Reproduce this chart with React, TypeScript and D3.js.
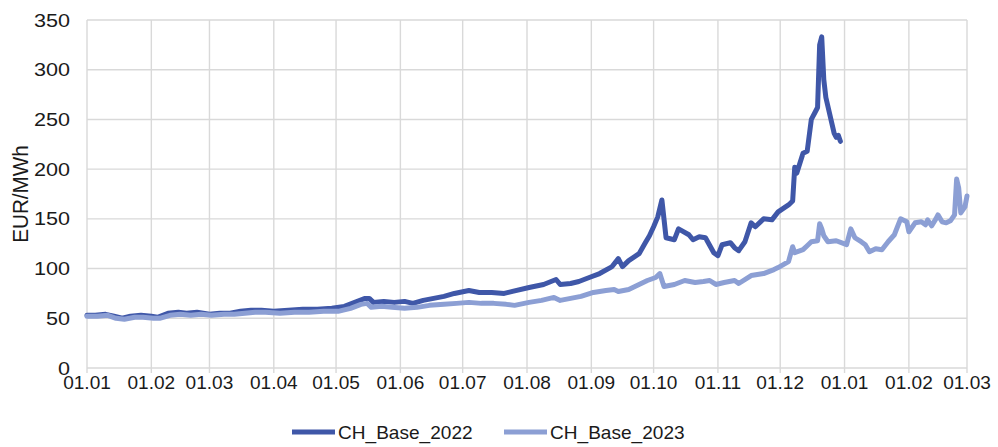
import * as React from 'react';
import * as d3 from 'd3';

// x axis runs over 14 months, dd.mm labels
const monthTicks = [
  '2022-01-01', '2022-02-01', '2022-03-01', '2022-04-01', '2022-05-01', '2022-06-01', '2022-07-01',
  '2022-08-01', '2022-09-01', '2022-10-01', '2022-11-01', '2022-12-01', '2023-01-01', '2023-02-01', '2023-03-01',
];
const yTicks = [0, 50, 100, 150, 200, 250, 300, 350];

const seriesNames = ['CH_Base_2022', 'CH_Base_2023'];

const base2022: [string, number][] = [
  ['2022-01-01', 53], ['2022-01-05', 53], ['2022-01-10', 54], ['2022-01-14', 52], ['2022-01-18', 50],
  ['2022-01-22', 52], ['2022-01-27', 53], ['2022-02-01', 52], ['2022-02-04', 51], ['2022-02-09', 55],
  ['2022-02-14', 56], ['2022-02-18', 55], ['2022-02-23', 56], ['2022-03-01', 54], ['2022-03-06', 55],
  ['2022-03-11', 55], ['2022-03-16', 57], ['2022-03-21', 58], ['2022-03-26', 58], ['2022-04-01', 57],
  ['2022-04-08', 58], ['2022-04-15', 59], ['2022-04-22', 59], ['2022-04-29', 60], ['2022-05-05', 62],
  ['2022-05-10', 66], ['2022-05-15', 70], ['2022-05-17', 70], ['2022-05-19', 66], ['2022-05-24', 67],
  ['2022-05-29', 66], ['2022-06-03', 67], ['2022-06-07', 65], ['2022-06-12', 68], ['2022-06-17', 70],
  ['2022-06-22', 72], ['2022-06-27', 75], ['2022-07-04', 78], ['2022-07-09', 76], ['2022-07-15', 76],
  ['2022-07-21', 75], ['2022-07-25', 77], ['2022-08-02', 81], ['2022-08-09', 84], ['2022-08-15', 89],
  ['2022-08-17', 84], ['2022-08-22', 85], ['2022-08-26', 87], ['2022-08-31', 91], ['2022-09-05', 95],
  ['2022-09-11', 102], ['2022-09-14', 110], ['2022-09-16', 102], ['2022-09-19', 108], ['2022-09-24', 115],
  ['2022-09-27', 126], ['2022-09-29', 133], ['2022-10-01', 142], ['2022-10-03', 152], ['2022-10-05', 169],
  ['2022-10-06', 150], ['2022-10-07', 131], ['2022-10-11', 129], ['2022-10-13', 140], ['2022-10-18', 134],
  ['2022-10-20', 129], ['2022-10-23', 132], ['2022-10-26', 131], ['2022-10-30', 116], ['2022-11-01', 113],
  ['2022-11-03', 124], ['2022-11-07', 126], ['2022-11-09', 121], ['2022-11-11', 118], ['2022-11-14', 127],
  ['2022-11-17', 146], ['2022-11-19', 142], ['2022-11-23', 150], ['2022-11-27', 149], ['2022-11-30', 157],
  ['2022-12-05', 164], ['2022-12-07', 168], ['2022-12-08', 202], ['2022-12-09', 196], ['2022-12-12', 216],
  ['2022-12-14', 218], ['2022-12-16', 250], ['2022-12-18', 258], ['2022-12-19', 262], ['2022-12-20', 325],
  ['2022-12-21', 333], ['2022-12-22', 290], ['2022-12-23', 272], ['2022-12-27', 236], ['2022-12-28', 232],
  ['2022-12-29', 234], ['2022-12-30', 228],
];

const base2023: [string, number][] = [
  ['2022-01-01', 52], ['2022-01-06', 52], ['2022-01-11', 53], ['2022-01-15', 50], ['2022-01-19', 49],
  ['2022-01-24', 51], ['2022-01-28', 51], ['2022-02-02', 50], ['2022-02-05', 50], ['2022-02-10', 53],
  ['2022-02-15', 54], ['2022-02-20', 53], ['2022-02-25', 54], ['2022-03-02', 53], ['2022-03-08', 54],
  ['2022-03-13', 54], ['2022-03-18', 55], ['2022-03-23', 56], ['2022-03-28', 56], ['2022-04-04', 55],
  ['2022-04-11', 56], ['2022-04-18', 56], ['2022-04-25', 57], ['2022-05-02', 57], ['2022-05-08', 60],
  ['2022-05-13', 64], ['2022-05-16', 65], ['2022-05-18', 61], ['2022-05-23', 62], ['2022-05-28', 61],
  ['2022-06-03', 60], ['2022-06-09', 61], ['2022-06-15', 63], ['2022-06-22', 64], ['2022-06-28', 65],
  ['2022-07-04', 66], ['2022-07-10', 65], ['2022-07-16', 65], ['2022-07-22', 64], ['2022-07-26', 63],
  ['2022-08-02', 66], ['2022-08-08', 68], ['2022-08-14', 71], ['2022-08-17', 68], ['2022-08-22', 70],
  ['2022-08-27', 72], ['2022-09-02', 76], ['2022-09-08', 78], ['2022-09-12', 79], ['2022-09-14', 77],
  ['2022-09-19', 79], ['2022-09-24', 84], ['2022-09-28', 88], ['2022-10-02', 91], ['2022-10-04', 95],
  ['2022-10-06', 82], ['2022-10-11', 84], ['2022-10-16', 88], ['2022-10-21', 86], ['2022-10-25', 87],
  ['2022-10-28', 88], ['2022-10-31', 84], ['2022-11-04', 86], ['2022-11-09', 88], ['2022-11-11', 85],
  ['2022-11-17', 93], ['2022-11-23', 95], ['2022-11-28', 99], ['2022-11-30', 101], ['2022-12-05', 107],
  ['2022-12-07', 122], ['2022-12-08', 116], ['2022-12-12', 119], ['2022-12-14', 123], ['2022-12-16', 127],
  ['2022-12-19', 128], ['2022-12-20', 145], ['2022-12-21', 140], ['2022-12-22', 133], ['2022-12-24', 127],
  ['2022-12-28', 128], ['2023-01-02', 124], ['2023-01-04', 140], ['2023-01-06', 131], ['2023-01-09', 127],
  ['2023-01-11', 124], ['2023-01-13', 117], ['2023-01-16', 120], ['2023-01-19', 119], ['2023-01-22', 127],
  ['2023-01-25', 134], ['2023-01-28', 150], ['2023-01-31', 147], ['2023-02-01', 137], ['2023-02-04', 146],
  ['2023-02-07', 147], ['2023-02-09', 144], ['2023-02-10', 149], ['2023-02-12', 143], ['2023-02-14', 150],
  ['2023-02-15', 154], ['2023-02-17', 147], ['2023-02-19', 146], ['2023-02-21', 148], ['2023-02-23', 154],
  ['2023-02-24', 190], ['2023-02-25', 181], ['2023-02-26', 156], ['2023-02-27', 159], ['2023-02-28', 162],
  ['2023-03-01', 173],
];

const colors = ['#3f57a8', '#8c9fd4'];

const W = 998;
const H = 447;
const margin = { top: 20, right: 30, bottom: 79, left: 87 };
const font = 'Arial, "Liberation Sans", sans-serif';

const parse = d3.utcParse('%Y-%m-%d');

export default function App() {
  const x = d3.scaleUtc()
    .domain([parse(monthTicks[0])!, parse(monthTicks[monthTicks.length - 1])!])
    .range([margin.left, W - margin.right - 1]);
  const y = d3.scaleLinear().domain([0, 350]).range([H - margin.bottom, margin.top]);

  const line = d3.line<[string, number]>()
    .x(d => x(parse(d[0])!))
    .y(d => y(d[1]));

  const fmt = d3.utcFormat('%d.%m');
  const series = [base2022, base2023];

  return (
    <svg width={W} height={H} style={{ position: 'absolute', left: 0, top: 0, background: '#fff' }}>
      {/* grid */}
      <g stroke="#d9d9d9" strokeWidth={1.4}>
        {yTicks.map(t => (
          <line key={t} x1={x.range()[0]} x2={x.range()[1]} y1={y(t)} y2={y(t)} />
        ))}
        {monthTicks.map(t => (
          <line key={t} x1={x(parse(t)!)} x2={x(parse(t)!)} y1={margin.top} y2={y(0) + 5} />
        ))}
      </g>
      {/* y labels, slightly wide as in the source */}
      <g fontFamily={font} fontSize={18} fill="#1a1a1a" textAnchor="end">
        {yTicks.map(t => (
          <text key={t} transform={`translate(70,${y(t) + 6.5}) scale(1.2,1)`}>{t}</text>
        ))}
      </g>
      {/* x labels */}
      <g fontFamily={font} fontSize={18} fill="#1a1a1a" textAnchor="middle">
        {monthTicks.map(t => (
          <text key={t} transform={`translate(${x(parse(t)!)},${y(0) + 21}) scale(1.06,1)`}>{fmt(parse(t)!)}</text>
        ))}
      </g>
      <text
        transform={`translate(28,${(y(0) + y(350)) / 2}) rotate(-90) scale(1.15,1.2)`}
        textAnchor="middle" fontFamily={font} fontSize={18} fill="#1a1a1a"
      >EUR/MWh</text>
      {/* lines: 2023 drawn last, on top */}
      {[0, 1].map(i => (
        <path key={i} d={line(series[i]) || ''} fill="none" stroke={colors[i]}
          strokeWidth={5} strokeLinejoin="round" strokeLinecap="round" />
      ))}
      {/* legend */}
      <g fontFamily={font} fontSize={18} fill="#1a1a1a">
        {seriesNames.map((name, i) => (
          <g key={name} transform={`translate(${292 + i * 212},432)`}>
            <line x1={0} x2={43} y1={0} y2={0} stroke={colors[i]} strokeWidth={5} />
            <text transform="translate(46,6.5) scale(1.06,1)">{name}</text>
          </g>
        ))}
      </g>
    </svg>
  );
}
